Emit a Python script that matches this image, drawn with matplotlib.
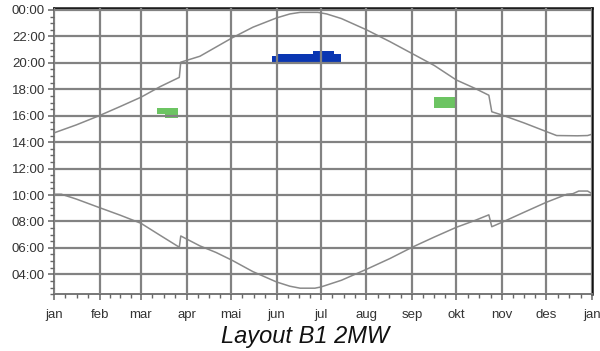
import matplotlib
matplotlib.use("Agg")
import matplotlib.pyplot as plt
from matplotlib.ticker import FixedLocator

plt.rcParams['font.family'] = ['Liberation Sans', 'DejaVu Sans']

# day-of-year boundaries for the month grid
month_start = [0, 31, 59, 90, 120, 151, 181, 212, 243, 273, 304, 334, 365]
month_names = ['jan', 'feb', 'mar', 'apr', 'mai', 'jun', 'jul', 'aug',
               'sep', 'okt', 'nov', 'des', 'jan']

# sunset (upper curve), hours, with summer time jumps
sunset_day = [0, 15, 30, 45, 59, 72, 85, 86, 99, 110, 121, 135, 151, 160, 167,
              179, 185, 195, 212, 228, 243, 258, 273, 285, 295, 297, 304, 319,
              334, 341, 355, 362, 365]
sunset_h = [14.7, 15.3, 15.97, 16.7, 17.4, 18.2, 18.9, 20.05, 20.5, 21.2, 21.9,
            22.7, 23.4, 23.7, 23.82, 23.82, 23.7, 23.35, 22.5, 21.6, 20.7, 19.8,
            18.7, 18.1, 17.55, 16.3, 16.05, 15.45, 14.8, 14.5, 14.48, 14.5, 14.6]

# sunrise (lower curve), hours
sunrise_day = [0, 5, 15, 30, 45, 59, 72, 85, 86, 99, 110, 121, 135, 151, 160,
               167, 177, 181, 195, 212, 228, 243, 258, 273, 285, 295, 297, 304,
               319, 334, 348, 352, 356, 362, 365]
sunrise_h = [10.06, 10.06, 9.7, 9.08, 8.47, 7.86, 6.95, 6.05, 6.9, 6.15, 5.65,
             5.05, 4.2, 3.42, 3.1, 2.95, 2.95, 3.04, 3.55, 4.38, 5.2, 6.05, 6.82,
             7.56, 8.05, 8.5, 7.6, 7.94, 8.7, 9.45, 10.06, 10.1, 10.3, 10.3, 10.1]

# shadow periods: day, lower hour, upper hour (step shaped)
spring_day = [70, 75, 84]
spring_lo = [16.1, 15.8, 15.8]
spring_hi = [16.6, 16.6, 16.6]

autumn_day = [258, 272]
autumn_lo = [16.6, 16.6]
autumn_hi = [17.4, 17.4]

summer_day = [148, 151, 176, 190, 195]
summer_lo = [20.06, 20.06, 20.06, 20.06, 20.06]
summer_hi = [20.5, 20.67, 20.9, 20.67, 20.67]

hour_ticks = list(range(4, 25, 2))
hour_labels = ['%02d:00' % (h % 24) for h in hour_ticks]

fig = plt.figure(figsize=(6, 3.51), dpi=100)
ax = fig.add_axes([0.09, 0.162, 0.8967, 0.8152])

ax.fill_between(spring_day, spring_lo, spring_hi, step='post', color='#6cc462', lw=0)
ax.fill_between(autumn_day, autumn_lo, autumn_hi, step='post', color='#6cc462', lw=0)
ax.fill_between(summer_day, summer_lo, summer_hi, step='post', color='#0a36b2', lw=0)

ax.plot(sunset_day, sunset_h, color='#8a8a8a', lw=1.1)
ax.plot(sunrise_day, sunrise_h, color='#8a8a8a', lw=1.1)

ax.set_xlim(0, 365)
ax.set_ylim(2.5, 24.15)

ax.set_xticks(month_start)
ax.set_xticklabels(month_names)
minor_x = []
for a, b in zip(month_start[:-1], month_start[1:]):
    minor_x += [a + (b - a) * k / 4 for k in (1, 2, 3)]
ax.xaxis.set_minor_locator(FixedLocator(minor_x))

ax.set_yticks(hour_ticks)
ax.set_yticklabels(hour_labels)
ax.yaxis.set_minor_locator(FixedLocator([h / 2 for h in range(5, 49)]))

ax.set_axisbelow(False)
ax.grid(True, which='major', color='#828282', lw=1.6)

ax.tick_params(which='major', direction='out', length=4.5, width=1.1,
               color='#666666', labelsize=9.5, labelcolor='#333333')
ax.tick_params(axis='y', which='major', pad=2)
ax.tick_params(axis='x', which='major', pad=6)
ax.tick_params(which='minor', direction='out', length=3.2, width=1.0, color='#666666')

for side in ('left', 'bottom'):
    ax.spines[side].set_color('#777777')
    ax.spines[side].set_linewidth(1.4)
for side in ('top', 'right'):
    ax.spines[side].set_color('#111111')
    ax.spines[side].set_linewidth(1.8)

fig.text(0.508, 0.04, 'Layout B1 2MW', ha='center', va='center',
         fontsize=17, style='italic', color='#111111')

fig.savefig('out.png', dpi=100)
